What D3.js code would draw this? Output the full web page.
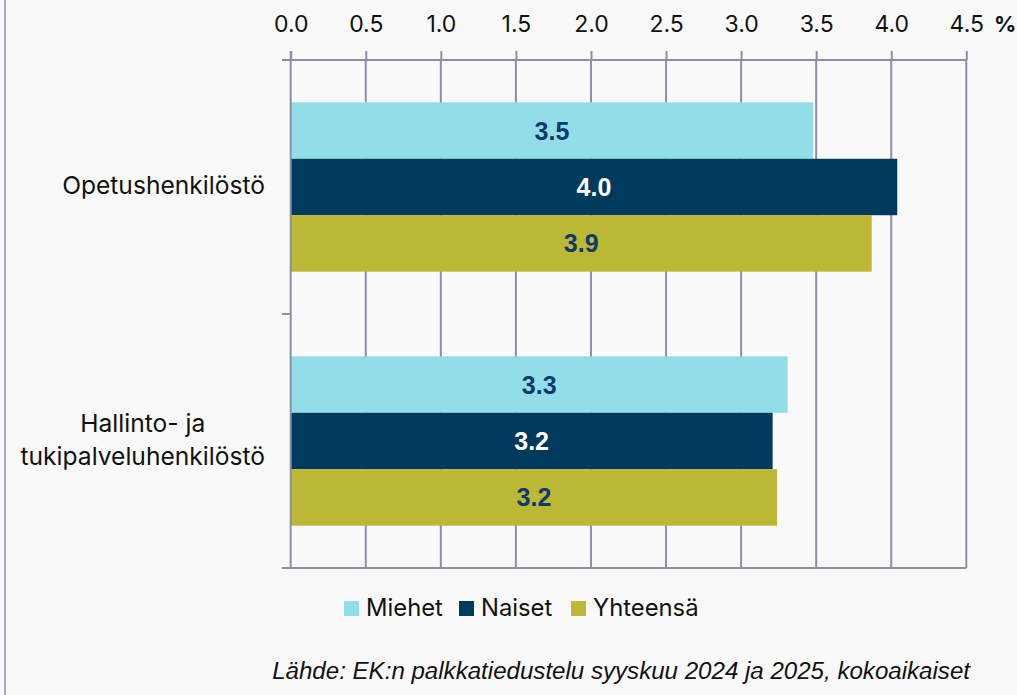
<!DOCTYPE html>
<html><head><meta charset="utf-8">
<script src="https://cdn.jsdelivr.net/npm/d3@7"></script>
<style>
html,body{margin:0;padding:0;background:#f9f9f9;}
svg{display:block;}
</style></head>
<body>
<svg id="chart" width="1017" height="695"></svg>
<script>
const categories = ["Opetushenkilöstö", "Hallinto- ja tukipalveluhenkilöstö"];
const categoryLines = [["Opetushenkilöstö"], ["Hallinto- ja", "tukipalveluhenkilöstö"]];
const seriesNames = ["Miehet", "Naiset", "Yhteensä"];
const miehet = [3.48, 3.31];
const naiset = [4.04, 3.21];
const yhteensa = [3.87, 3.24];
const valueLabels = [["3.5", "3.3"], ["4.0", "3.2"], ["3.9", "3.2"]];
const tickValues = [0, 0.5, 1, 1.5, 2, 2.5, 3, 3.5, 4, 4.5];
const colors = ["#92dee8", "#003a5d", "#bcb836"];
const labelColors = ["#0f3a6b", "#ffffff", "#0f3a6b"];
const sourceText = "Lähde: EK:n palkkatiedustelu syyskuu 2024 ja 2025, kokoaikaiset";

const series = [miehet, naiset, yhteensa];
const svg = d3.select("#chart");
const font = "Inter, 'Noto Sans', sans-serif";
const gridColor = "#8c90a4";

const x = d3.scaleLinear().domain([0, 4.5]).range([290.7, 966.3]);
const y0 = d3.scaleBand().domain(categories).range([60, 568]).paddingInner(0).paddingOuter(0);
const inner = d3.scaleBand().domain(seriesNames).range([0, y0.bandwidth()]).paddingOuter(0.75).paddingInner(0);

// left frame line
svg.append("line").attr("x1", 5).attr("x2", 5).attr("y1", 0).attr("y2", 695)
  .attr("stroke", "#a8abbd").attr("stroke-width", 2);

// gridlines
svg.append("g").selectAll("line").data(tickValues.slice(1)).join("line")
  .attr("x1", d => x(d)).attr("x2", d => x(d)).attr("y1", 60).attr("y2", 568)
  .attr("stroke", gridColor).attr("stroke-width", 2);

// bars
const groups = svg.append("g").selectAll("g").data(categories).join("g")
  .attr("transform", c => `translate(0,${y0(c)})`);
groups.each(function(c, ci) {
  const g = d3.select(this);
  seriesNames.forEach((s, si) => {
    const v = series[si][ci];
    g.append("rect").attr("x", x(0)).attr("y", inner(s))
      .attr("width", x(v) - x(0)).attr("height", inner.bandwidth())
      .attr("fill", colors[si]);
    g.append("text").attr("x", (x(0) + x(v)) / 2).attr("y", inner(s) + inner.bandwidth() / 2)
      .attr("dy", "0.36em").attr("text-anchor", "middle")
      .attr("font-family", "'Liberation Sans', Arial, sans-serif").attr("font-weight", "bold")
      .attr("font-size", 25).attr("fill", labelColors[si]).text(valueLabels[si][ci]);
  });
});

// top axis
const xAxis = d3.axisTop(x).tickValues(tickValues).tickFormat(d3.format(".1f")).tickSize(9).tickPadding(19);
const ax = svg.append("g").attr("transform", "translate(0,60)").call(xAxis);
ax.select(".domain").attr("stroke", gridColor).attr("stroke-width", 2).attr("d", `M282,0H${x(4.5)}`);
ax.selectAll(".tick line").attr("stroke", gridColor).attr("stroke-width", 2);
ax.selectAll(".tick text").attr("font-family", font).attr("font-size", 23).attr("fill", "#111");
svg.append("text").attr("x", 994).attr("y", 32).attr("font-family", font).attr("font-weight", "bold")
  .attr("font-size", 22).attr("fill", "#111").text("%");

// left axis
svg.append("line").attr("x1", x(0)).attr("x2", x(0)).attr("y1", 51).attr("y2", 568)
  .attr("stroke", gridColor).attr("stroke-width", 2);
svg.append("g").selectAll("line").data([60, y0(categories[1]), 568]).join("line")
  .attr("x1", 282).attr("x2", x(0)).attr("y1", d => d).attr("y2", d => d)
  .attr("stroke", gridColor).attr("stroke-width", 2);
svg.append("line").attr("x1", 282).attr("x2", x(4.5)).attr("y1", 568).attr("y2", 568)
  .attr("stroke", gridColor).attr("stroke-width", 2);

// category labels
categories.forEach((c, ci) => {
  const lines = categoryLines[ci];
  const cy = y0(c) + y0.bandwidth() / 2;
  const lh = 33;
  const g = svg.append("g");
  const texts = lines.map((l, li) => g.append("text")
    .attr("y", cy + (li - (lines.length - 1) / 2) * lh).attr("dy", "0.3em")
    .attr("font-family", font).attr("font-size", 24.6).attr("fill", "#111").text(l));
  const maxW = d3.max(texts, t => t.node().getComputedTextLength());
  const right = 265;
  texts.forEach(t => t.attr("text-anchor", "middle").attr("x", right - maxW / 2));
});

// legend
const legendX = [344, 459, 571];
seriesNames.forEach((s, si) => {
  svg.append("rect").attr("x", legendX[si]).attr("y", 601).attr("width", 15).attr("height", 15).attr("fill", colors[si]);
  svg.append("text").attr("x", legendX[si] + 22).attr("y", 616)
    .attr("font-family", font).attr("font-size", 23.8).attr("fill", "#111").text(s);
});

// source
svg.append("text").attr("x", 970).attr("y", 679).attr("text-anchor", "end")
  .attr("font-family", "'Liberation Sans', Arial, sans-serif").attr("font-style", "italic")
  .attr("font-size", 24.1).attr("fill", "#111").text(sourceText);
</script>
</body></html>
